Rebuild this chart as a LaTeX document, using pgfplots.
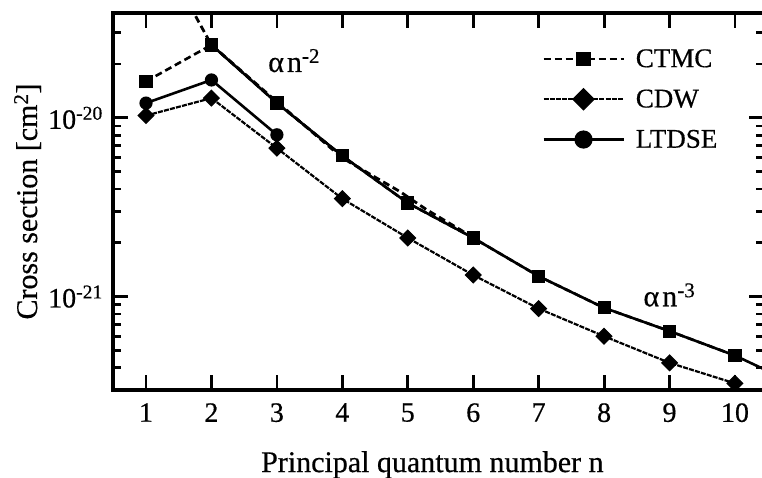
\documentclass[border=0pt]{standalone}
\usepackage{fontspec}
\setmainfont{Liberation Serif}[FakeBold=0.5]
\usepackage{pgfplots}
\pgfplotsset{compat=1.18}
\begin{document}
\begin{tikzpicture}
\begin{axis}[
  scale only axis, width=650.5pt, height=377pt,
  xmin=0.4954, xmax=10.436,
  ymode=log, ymin=3e-22, ymax=3.86e-20,
  xtick={1,2,3,4,5,6,7,8,9,10}, xticklabels={1,2,3,4,5,6,7,8,9,10},
  ytick={1e-21,1e-20}, yticklabels={10\textsuperscript{-21},10\textsuperscript{-20}},
  minor ytick={3e-22,4e-22,5e-22,6e-22,7e-22,8e-22,9e-22,2e-21,3e-21,4e-21,5e-21,6e-21,7e-21,8e-21,9e-21,2e-20,3e-20},
  tick align=inside,
  major tick length=15pt, minor tick length=8pt,
  every tick/.style={black, line width=2.8pt},
  axis line style={line width=3.2pt},
  ticklabel style={font=\fontsize{28}{28}\selectfont},
  xticklabel style={inner sep=0pt, anchor=north, yshift=-13pt},
  yticklabel style={inner sep=0pt, anchor=east, xshift=-10pt},
  xlabel={Principal quantum number n},
  ylabel={Cross section [cm\textsuperscript{2}]},
  label style={font=\fontsize{30}{30}\selectfont},
  xlabel style={at={(axis description cs:0.491,-0.2175)}, anchor=base, inner sep=0pt},
  ylabel style={at={(axis description cs:-0.11683,0.5)}, anchor=base, inner sep=0pt},
  legend style={at={(axis description cs:0.6595,0.9045)}, anchor=north west, draw=none, fill=none, inner sep=0pt, row sep=20pt, column sep=11pt, font=\fontsize{27}{27}\selectfont, cells={anchor=west}, nodes={inner sep=0pt}},
  legend image code/.code={\draw[mark repeat=2,mark phase=2,#1] plot coordinates {(0pt,0pt) (40pt,0pt) (80pt,0pt)};},
]
% alpha n^-2 guide
\addplot[line width=2.8pt, dash pattern=on 7pt off 4pt, forget plot] coordinates {
(1.68,4.2e-20) (1.775,3.61e-20) (2,2.56e-20) (3,1.23e-20) (4,5.97e-21) (4.5,4.66e-21) (4.88,3.87e-21) (5.29,3.06e-21) (5.8,2.37e-21) (6,2.13e-21)};
% alpha n^-3 guide
\addplot[line width=2.6pt, forget plot] coordinates {
(2,2.56e-20) (3,1.21e-20) (4,6.13e-21) (5,3.34e-21) (6,2.13e-21) (7,1.30e-21) (8,8.65e-22) (9,6.41e-22) (10,4.68e-22) (10.44,3.93e-22)};
\addplot[line width=2.6pt, dash pattern=on 7pt off 4pt, mark=square*, mark size=6pt, mark options={solid, line width=1.2pt}, legend image post style={mark size=6.5pt}] coordinates {
(1,1.60e-20) (2,2.56e-20) (3,1.21e-20) (4,6.13e-21) (5,3.34e-21) (6,2.13e-21) (7,1.30e-21) (8,8.65e-22) (9,6.41e-22) (10,4.68e-22)};
\addplot[line width=2.2pt, dash pattern=on 5pt off 1.2pt, mark=square*, mark size=5.5pt, mark options={solid, line width=1.2pt, rotate=45}, legend image post style={mark size=7.5pt}] coordinates {
(1,1.03e-20) (2,1.29e-20) (3,6.77e-21) (4,3.53e-21) (5,2.13e-21) (6,1.32e-21) (7,8.57e-22) (8,6.00e-22) (9,4.26e-22) (10,3.27e-22)};
\addplot[line width=2.6pt, mark=*, mark size=6pt, mark options={solid, line width=1.2pt}, legend image post style={mark size=8.5pt}] coordinates {
(1,1.21e-20) (2,1.63e-20) (3,8.04e-21)};
\legend{CTMC,CDW,LTDSE}
\node[anchor=base west, inner sep=0pt, font=\fontsize{30}{30}\selectfont] at (axis cs:2.865,1.807e-20) {α\kern3pt n\textsuperscript{-2}};
\node[anchor=base west, inner sep=0pt, font=\fontsize{30}{30}\selectfont] at (axis cs:8.60,8.83e-22) {α\kern3pt n\textsuperscript{-3}};
\end{axis}
\pgfresetboundingbox
\path[use as bounding box] ([xshift=-113pt,yshift=-87pt]current axis.south west) rectangle ([xshift=-1.5pt,yshift=13pt]current axis.north east);
\end{tikzpicture}
\end{document}
